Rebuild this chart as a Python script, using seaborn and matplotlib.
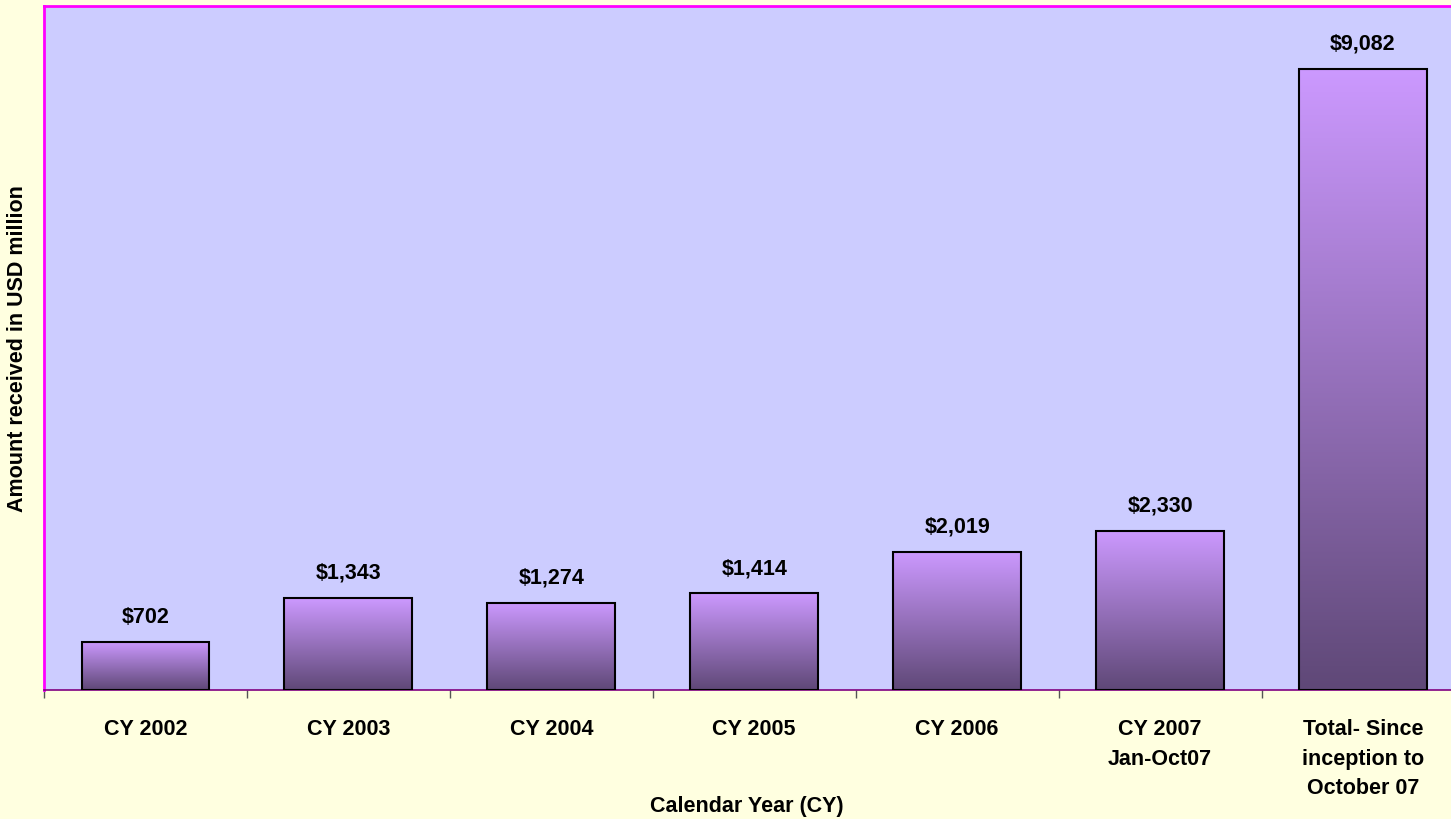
import numpy as np
import pandas as pd
import seaborn as sns
import matplotlib.pyplot as plt
from matplotlib.colors import LinearSegmentedColormap

# data (USD million)
categories = ['CY 2002', 'CY 2003', 'CY 2004', 'CY 2005', 'CY 2006',
              'CY 2007\nJan-Oct07', 'Total- Since\ninception to\nOctober 07']
amounts = [702, 1343, 1274, 1414, 2019, 2330, 9082]
value_labels = ['$702', '$1,343', '$1,274', '$1,414', '$2,019', '$2,330', '$9,082']

df = pd.DataFrame({'category': categories, 'amount': amounts})

sns.set_style('white')
plt.rcParams['font.family'] = ['Liberation Sans', 'DejaVu Sans']
plt.rcParams['text.color'] = 'black'
plt.rcParams['axes.labelcolor'] = 'black'
plt.rcParams['xtick.color'] = 'black'

fig = plt.figure(figsize=(14.51, 8.2), dpi=100, facecolor='#FFFFE0')
# plot area runs slightly past the right edge of the picture, as in the original
ax = fig.add_axes([0.0303, 0.1573, 0.979, 0.8342])
ax.set_facecolor('#CCCCFF')

sns.barplot(data=df, x='category', y='amount', ax=ax, width=0.63,
            color='#CC99FF', edgecolor='black', linewidth=1.5, zorder=3)

# vertical gradient in each bar
cmap = LinearSegmentedColormap.from_list('bar_grad', ['#5F4877', '#CC99FF'])
grad = np.linspace(0, 1, 256).reshape(-1, 1)
for patch in ax.patches:
    x0, y0 = patch.get_x(), patch.get_y()
    w, h = patch.get_width(), patch.get_height()
    patch.set_facecolor('none')
    im = ax.imshow(grad, cmap=cmap, origin='lower', aspect='auto',
                   extent=[x0, x0 + w, y0, y0 + h], zorder=2)
    im.set_clip_path(patch)

ax.set_xlim(-0.5, len(categories) - 0.5)
ax.set_ylim(0, 10000)

ax.bar_label(ax.containers[0], labels=value_labels, padding=11,
             fontsize=15.5, fontweight='bold', color='black')

# axes look
ax.set_yticks([])
ax.set_xticks(np.arange(-0.5, len(categories), 1.0), minor=True)
ax.tick_params(axis='x', which='both', bottom=True)
ax.tick_params(axis='x', which='major', length=0, pad=20, labelsize=15.5,
               labelcolor='black')
ax.tick_params(axis='x', which='minor', length=6, width=1, color='#555555',
               direction='out')
for lbl in ax.get_xticklabels():
    lbl.set_fontweight('bold')
    lbl.set_linespacing(1.55)

for side in ['left', 'top']:
    ax.spines[side].set_color('#FF00FF')
    ax.spines[side].set_linewidth(2)
ax.spines['bottom'].set_color('#800080')
ax.spines['bottom'].set_linewidth(1.2)
ax.spines['right'].set_visible(False)

ax.set_xlabel('Calendar Year (CY)', fontsize=15.5, fontweight='bold',
              va='center')
ax.xaxis.set_label_coords(0.5 * 1407 / 1421, -0.1685)
ax.set_ylabel('Amount received in USD million', fontsize=15.5,
              fontweight='bold', va='center')
ax.yaxis.set_label_coords(-0.0185, 0.5)

fig.savefig('out.png', dpi=100, facecolor=fig.get_facecolor())
